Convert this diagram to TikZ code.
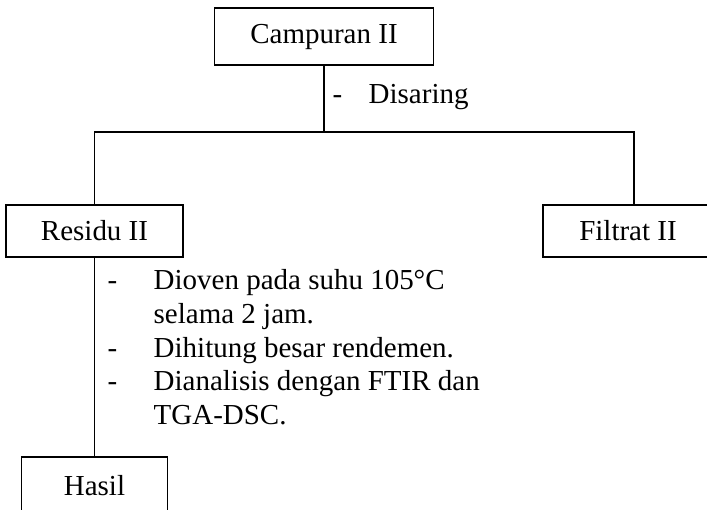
\documentclass[tikz,border=0pt]{standalone}
\usepackage{fontspec}
\setmainfont{Liberation Serif}
\usetikzlibrary{calc}

\tikzset{
  box/.style={draw, line width=0.6pt, inner sep=0pt},
  note/.style={anchor=base west, inner sep=0pt},
}

\begin{document}
\begin{tikzpicture}[x=0.414pt, y=-0.414pt, line width=0.6pt, font=\fontsize{12}{14}\selectfont]
\useasboundingbox (0,0) rectangle (707,510);
\node [box, minimum width=90.7pt, minimum height=23.6pt] (campuran) at (324,36.5) {Campuran II};
\coordinate (split) at (324,132);
\node [note] (dash0) at (332,104) {-}; \node [note] (saring) at (368,104) {Disaring};
\node [box, minimum width=73.3pt, minimum height=21.5pt] (residu) at (94.5,231) {Residu II};
\node [box, minimum width=70.4pt, minimum height=21.5pt] (filtrat) at (628,231) {Filtrat II};
\node [box, minimum width=60.4pt, minimum height=24pt] (hasil) at (94.5,486) {Hasil};
\draw (campuran) -- (split);
\draw (residu) |- (split) -| ($(filtrat.north)+(6,0)$);
\draw (residu) -- (hasil);
% langkah pada residu
\node [note] (dash1) at (107,290) {-}; \node [note] (oven) at (153,290) {Dioven pada suhu 105°C};
\node [note] (oven2) at (153,324) {selama 2 jam.};
\node [note] (dash2) at (107,358) {-}; \node [note] (hitung) at (153,358) {Dihitung besar rendemen.};
\node [note] (dash3) at (107,391) {-}; \node [note] (analisis) at (153,391) {Dianalisis dengan FTIR dan};
\node [note] (analisis2) at (153,425) {TGA-DSC.};
\end{tikzpicture}
\end{document}
